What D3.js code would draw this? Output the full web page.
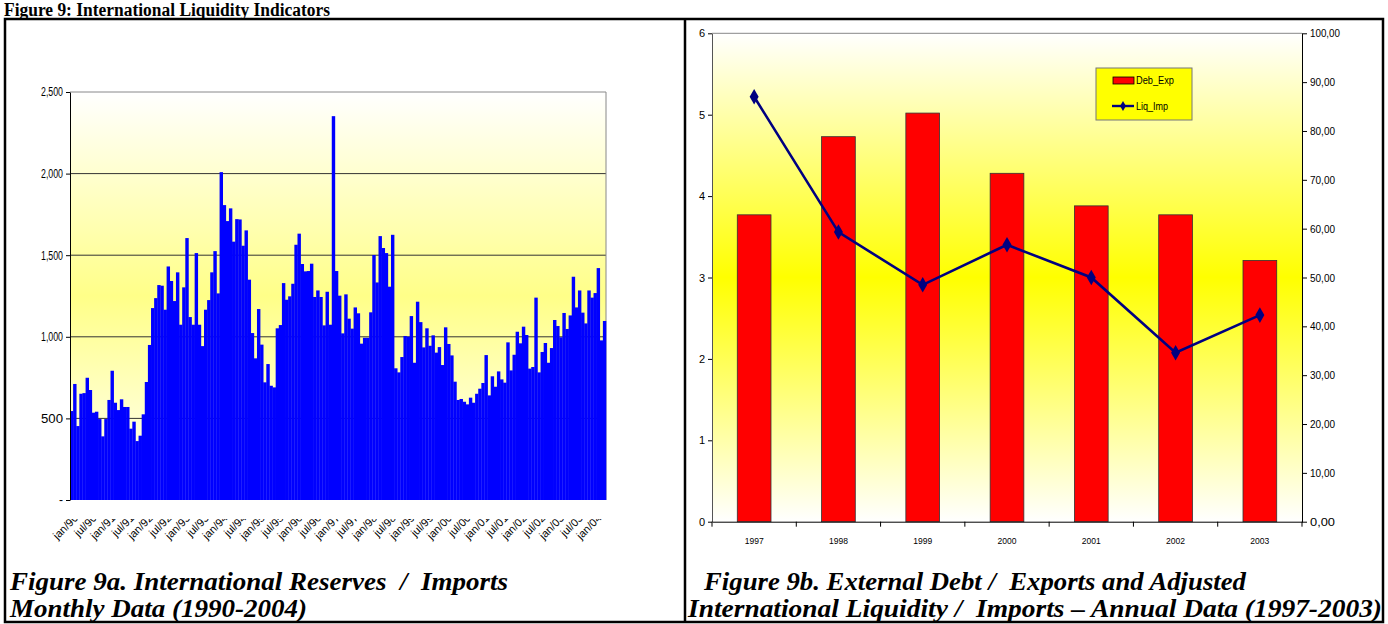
<!DOCTYPE html>
<html lang="en">
<head>
<meta charset="UTF-8">
<title>Figure 9: International Liquidity Indicators</title>
<script src="https://d3js.org/d3.v7.min.js"></script>
<style>
    body { margin: 0; background: #fff; }
    text { white-space: pre; }
    .ax text { font-family: "Liberation Sans", Arial, sans-serif; fill: #000; }
    .cap { font-family: "Liberation Serif", "Times New Roman", serif; font-weight: bold; font-style: italic; font-size: 25px; }
</style>
</head>
<body>
<script>
// ---- data: monthly reserves / imports (jan/90 .. apr/04)
const monthNames = ["jan","feb","mar","apr","may","jun","jul","aug","sep","oct","nov","dec"];
const reserves = [
    545,711,453,651,655,749,674,535,541,496,390,496,
    613,792,596,551,617,570,570,437,480,361,394,525,
    723,950,1176,1237,1317,1313,1166,1431,1342,1219,1395,1074,
    1303,1605,1121,1074,1513,1074,943,1166,1225,1395,1525,1266,
    2009,1807,1709,1787,1583,1721,1719,1558,1652,1350,1023,868,
    1170,952,721,833,700,690,1052,1072,1329,1227,1248,1325,
    1564,1632,1446,1401,1403,1448,1244,1284,1244,1070,1276,1074,
    2352,1403,1252,1021,1260,1111,1050,1180,1144,958,994,994,
    1150,1501,1333,1617,1544,1513,1307,1625,807,782,876,1005,
    1001,1127,841,1215,1090,935,1052,945,1009,903,937,827,
    1058,956,886,725,613,619,602,586,627,596,651,682,
    717,888,641,758,694,788,739,719,966,794,890,1031,
    960,1062,1011,805,815,1240,782,907,962,841,931,1103,
    1066,997,1146,1048,1131,1368,1180,1284,1148,1082,1284,1240,
    1268,1421,978,1097
];
const monthTickLabels = [
    "jan/90","jul/90","jan/91","jul/91","jan/92","jul/92","jan/93","jul/93",
    "jan/94","jul/94","jan/95","jul/95","jan/96","jul/96","jan/97","jul/97",
    "jan/98","jul/98","jan/99","jul/99","jan/00","jul/00","jan/01","jul/01",
    "jan/02","jul/02","jan/03","jul/03","jan/04"
];
const reserveTicks = [0, 500, 1000, 1500, 2000, 2500];

// ---- data: annual (1997..2003)
const years = ["1997","1998","1999","2000","2001","2002","2003"];
const debExp = [3.77, 4.73, 5.02, 4.28, 3.88, 3.77, 3.21];
const liqImp = [87.0, 59.3, 48.5, 56.7, 50.0, 34.6, 42.3];
const leftTicks = [0, 1, 2, 3, 4, 5, 6];
const rightTicks = [0, 10, 20, 30, 40, 50, 60, 70, 80, 90, 100];

const months = reserves.map((v, i) => monthNames[i % 12] + "/" + String((90 + Math.floor(i / 12)) % 100).padStart(2, "0"));

const W = 1388, H = 624;
const svg = d3.select("body").append("svg")
    .attr("width", W)
    .attr("height", H);

const defs = svg.append("defs");
function vGrad(id, mid) {
    const g = defs.append("linearGradient").attr("id", id)
        .attr("x1", 0).attr("y1", 0).attr("x2", 0).attr("y2", 1);
    g.append("stop").attr("offset", "0%").attr("stop-color", "#ffffff");
    g.append("stop").attr("offset", "50%").attr("stop-color", mid);
    g.append("stop").attr("offset", "100%").attr("stop-color", "#ffffff");
}
vGrad("gLeft", "#ffff88");
vGrad("gRight", "#ffff00");
defs.append("clipPath").attr("id", "labClip")
    .append("rect").attr("x", 0).attr("y", 519).attr("width", 685).attr("height", 60);

// page title
svg.append("text")
    .attr("x", 4).attr("y", 16)
    .attr("textLength", 326).attr("lengthAdjust", "spacingAndGlyphs")
    .style("font-family", "'Liberation Serif', 'Times New Roman', serif")
    .style("font-weight", "bold").style("font-size", "18px")
    .text("Figure 9: International Liquidity Indicators");

// ================= left chart =================
const L = { left: 70, right: 606, top: 92, bottom: 500 };
const xm = d3.scaleBand().domain(months).range([L.left, L.right]).padding(0);
const yRes = d3.scaleLinear().domain([0, 2500]).range([L.bottom, L.top]);

const left = svg.append("g");
left.append("rect")
    .attr("x", L.left).attr("y", L.top)
    .attr("width", L.right - L.left).attr("height", L.bottom - L.top)
    .attr("fill", "url(#gLeft)");

left.append("g").selectAll("line")
    .data(reserveTicks.slice(1, -1))
    .join("line")
    .attr("x1", L.left).attr("x2", L.right)
    .attr("y1", d => yRes(d)).attr("y2", d => yRes(d))
    .attr("stroke", "#333").attr("stroke-width", 1);

left.append("path")
    .attr("d", `M${L.left},${L.top}H${L.right}V${L.bottom}`)
    .attr("fill", "none").attr("stroke", "#888").attr("stroke-width", 1);

left.append("g").selectAll("rect")
    .data(reserves)
    .join("rect")
    .attr("x", (d, i) => xm(months[i]))
    .attr("width", xm.bandwidth() + 0.3)
    .attr("y", d => yRes(d))
    .attr("height", d => yRes(0) - yRes(d))
    .attr("fill", "#0000ff");

const yResAxis = left.append("g").attr("class", "ax")
    .attr("transform", `translate(${L.left},0)`)
    .call(d3.axisLeft(yRes).tickValues(reserveTicks).tickSize(4).tickSizeOuter(0)
        .tickFormat(d => d === 0 ? "-" : d3.format(",")(d)));
yResAxis.selectAll("text")
    .style("font-size", "12px")
    .attr("x", -7)
    .each(function(d) { if (d !== 0) d3.select(this).attr("textLength", 22).attr("lengthAdjust", "spacingAndGlyphs"); });

const monthTicks = d3.range(0, reserves.length, 6).map(i => months[i]);
const xResAxis = left.append("g").attr("class", "ax")
    .attr("transform", `translate(0,${L.bottom})`)
    .call(d3.axisBottom(xm).tickValues(monthTicks).tickSize(4).tickSizeOuter(0)
        .tickFormat((d, i) => monthTickLabels[i]));
xResAxis.selectAll(".tick line").attr("transform", `translate(${-xm.bandwidth() / 2},0)`);
xResAxis.selectAll(".tick text")
    .style("font-size", "11px")
    .attr("text-anchor", "end")
    .attr("dy", "0.35em").attr("y", 0)
    .attr("transform", `translate(${-xm.bandwidth() / 2 + 6},16) rotate(-45)`);
// labels are cut at their top, as in the source chart
left.append("g").attr("clip-path", "url(#labClip)").node()
    .appendChild(xResAxis.node());

// ================= right chart =================
const R = { left: 712, right: 1302, top: 33.3, bottom: 521.7 };
const xYear = d3.scaleBand().domain(years).range([R.left, R.right]).padding(0);
const yDeb = d3.scaleLinear().domain([0, 6]).range([R.bottom, R.top]);
const yLiq = d3.scaleLinear().domain([0, 100]).range([R.bottom, R.top]);
const ptBR = d3.formatLocale({ decimal: ",", thousands: ".", grouping: [3], currency: ["R$", ""] });

const right = svg.append("g");
right.append("rect")
    .attr("x", R.left).attr("y", R.top)
    .attr("width", R.right - R.left).attr("height", R.bottom - R.top)
    .attr("fill", "url(#gRight)");
right.append("line")
    .attr("x1", R.left).attr("x2", R.right)
    .attr("y1", R.top).attr("y2", R.top)
    .attr("stroke", "#888");

const barW = xYear.bandwidth() / 2.5;
right.append("g").selectAll("rect")
    .data(debExp)
    .join("rect")
    .attr("x", (d, i) => xYear(years[i]) + (xYear.bandwidth() - barW) / 2)
    .attr("width", barW)
    .attr("y", d => yDeb(d))
    .attr("height", d => yDeb(0) - yDeb(d))
    .attr("fill", "#ff0000")
    .attr("stroke", "#333").attr("stroke-width", 0.8);

const line = d3.line()
    .x((d, i) => xYear(years[i]) + xYear.bandwidth() / 2)
    .y(d => yLiq(d));
right.append("path")
    .datum(liqImp)
    .attr("d", line)
    .attr("fill", "none")
    .attr("stroke", "#000080").attr("stroke-width", 2.6);
right.append("g").selectAll("path")
    .data(liqImp)
    .join("path")
    .attr("d", d3.symbol(d3.symbolDiamond).size(70))
    .attr("transform", (d, i) => `translate(${xYear(years[i]) + xYear.bandwidth() / 2},${yLiq(d)})`)
    .attr("fill", "#000080");

// axes
const yDebAxis = right.append("g").attr("class", "ax")
    .attr("transform", `translate(${R.left},0)`)
    .call(d3.axisLeft(yDeb).tickValues(leftTicks).tickSize(4).tickSizeOuter(0).tickFormat(d3.format("d")));
yDebAxis.selectAll("text").style("font-size", "11px").attr("x", -7);
yDebAxis.select(".domain").attr("stroke", "#555");

const yLiqAxis = right.append("g").attr("class", "ax")
    .attr("transform", `translate(${R.right},0)`)
    .call(d3.axisRight(yLiq).tickValues(rightTicks).tickSize(5).tickSizeOuter(0).tickFormat(ptBR.format(".2f")));
yLiqAxis.selectAll("text").style("font-size", "11px").attr("x", 8)
    .attr("textLength", d => d === 100 ? 30 : 25).attr("lengthAdjust", "spacingAndGlyphs");

const xYearAxis = right.append("g").attr("class", "ax")
    .attr("transform", `translate(0,${R.bottom})`)
    .call(d3.axisBottom(xYear).tickSize(0).tickSizeOuter(0));
xYearAxis.selectAll("text").style("font-size", "9.5px").attr("y", 16)
    .attr("textLength", 19).attr("lengthAdjust", "spacingAndGlyphs");
xYearAxis.append("g").selectAll("line")
    .data(d3.range(years.length + 1))
    .join("line")
    .attr("x1", i => R.left + i * xYear.step()).attr("x2", i => R.left + i * xYear.step())
    .attr("y1", 0).attr("y2", 5)
    .attr("stroke", "#000");

// legend
const lg = right.append("g").attr("transform", "translate(1096,68)");
lg.append("rect").attr("width", 96).attr("height", 52)
    .attr("fill", "#ffff00").attr("stroke", "#777").attr("stroke-width", 1);
lg.append("rect").attr("x", 17).attr("y", 9).attr("width", 21).attr("height", 7)
    .attr("fill", "#ff0000").attr("stroke", "#000").attr("stroke-width", 0.8);
lg.append("line").attr("x1", 16).attr("x2", 38).attr("y1", 38).attr("y2", 38)
    .attr("stroke", "#000080").attr("stroke-width", 2.4);
lg.append("path").attr("d", d3.symbol(d3.symbolDiamond).size(30))
    .attr("transform", "translate(27,38)").attr("fill", "#000080");
lg.selectAll("text.lab")
    .data(["Deb_Exp", "Liq_Imp"])
    .join("text")
    .attr("x", 40).attr("y", (d, i) => 16 + i * 26)
    .attr("textLength", (d, i) => i ? 32 : 38).attr("lengthAdjust", "spacingAndGlyphs")
    .style("font-family", "'Liberation Sans', Arial, sans-serif")
    .style("font-size", "10.5px")
    .text(d => d);

// ================= frame & captions =================
svg.append("rect")
    .attr("x", 5).attr("y", 19).attr("width", 1378).attr("height", 603)
    .attr("fill", "none").attr("stroke", "#000").attr("stroke-width", 2.5);
svg.append("line")
    .attr("x1", 685).attr("x2", 685).attr("y1", 19).attr("y2", 622)
    .attr("stroke", "#000").attr("stroke-width", 2.5);

const captions = [
    { text: "Figure 9a. International Reserves  /  Imports", x: 10, y: 590, w: 498 },
    { text: "Monthly Data (1990-2004)", x: 10, y: 617, w: 297 },
    { text: "Figure 9b. External Debt /  Exports and Adjusted", x: 704, y: 590, w: 542 },
    { text: "International Liquidity /  Imports \u2013 Annual Data (1997-2003)", x: 688, y: 617, w: 694 }
];
svg.selectAll("text.cap")
    .data(captions)
    .join("text")
    .attr("class", "cap")
    .attr("x", d => d.x).attr("y", d => d.y)
    .attr("textLength", d => d.w).attr("lengthAdjust", "spacingAndGlyphs")
    .text(d => d.text);
</script>
</body>
</html>
